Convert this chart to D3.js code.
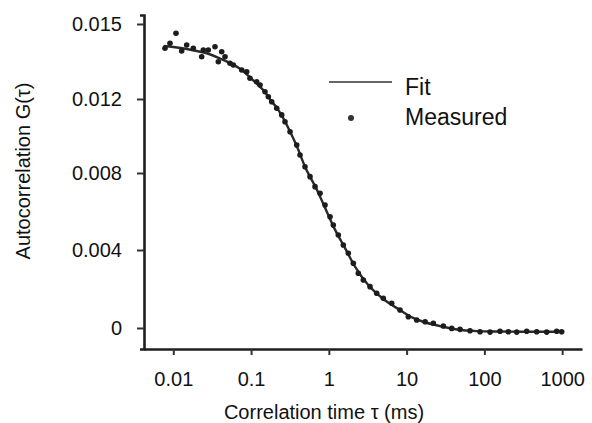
<!DOCTYPE html>
<html>
<head>
<meta charset="utf-8">
<script src="https://d3js.org/d3.v7.min.js"></script>
<style>
  body { margin: 0; background: #fff; }
  svg text { font-family: "Liberation Sans", Arial, Helvetica, sans-serif; fill: #111; }
</style>
</head>
<body>
<script>
// measured points (tau in ms, G)
var measuredTau = [0.00782, 0.00907, 0.01083, 0.01282, 0.01486, 0.01808, 0.02318, 0.02432, 0.02818, 0.03436,
  0.03793, 0.0419, 0.04624, 0.05358, 0.05912, 0.07586, 0.0879, 0.09683, 0.118, 0.1303,
  0.151, 0.1667, 0.1842, 0.2137, 0.2477, 0.2731, 0.317, 0.3864, 0.4259, 0.4939,
  0.5728, 0.6642, 0.7703, 0.8932, 1.036, 1.141, 1.323, 1.535, 1.78, 2.064,
  2.393, 2.775, 3.383, 4.125, 5.015, 6.427, 8.222, 10.52, 13.48, 17.3,
  22.05, 29.65, 38.02, 48.64, 65.31, 87.9, 118.3, 158.9, 203.2, 260.6,
  350.2, 471, 632.7, 851.1, 986.3];
var measuredG = [0.01403, 0.01423, 0.01463, 0.01392, 0.01416, 0.01403, 0.01369, 0.01396, 0.01396, 0.01409,
  0.01349, 0.01389, 0.01369, 0.01343, 0.01336, 0.01316, 0.01309, 0.01283, 0.01269, 0.01256,
  0.01229, 0.01209, 0.01185, 0.0115, 0.01114, 0.01077, 0.01023, 0.00951, 0.00897, 0.00834,
  0.00781, 0.00729, 0.00695, 0.00634, 0.00573, 0.0053, 0.00478, 0.00426, 0.00383, 0.00332,
  0.00281, 0.00246, 0.00212, 0.00178, 0.00152, 0.00127, 0.00092, 0.00058, 0.00041, 0.00032,
  0.00024, 0.0001, -0.00002, -0.00007, -0.00014, -0.00019, -0.00021, -0.00017, -0.00019, -0.00021,
  -0.00017, -0.00019, -0.00021, -0.00017, -0.00019];

// fit curve
var fitTau = [0.0075, 0.01, 0.015, 0.02, 0.03, 0.04, 0.054, 0.076, 0.097, 0.123,
  0.151, 0.175, 0.215, 0.258, 0.317, 0.39, 0.494, 0.705, 0.948, 1.2,
  1.616, 2.17, 3.19, 4.98, 8.23, 12.1, 16.3, 26.9, 44.5, 80,
  145, 314, 568, 939];
var fitG = [0.01412, 0.01408, 0.014, 0.01392, 0.01378, 0.01362, 0.01344, 0.01316, 0.01286, 0.01256,
  0.01228, 0.01198, 0.01152, 0.01098, 0.01024, 0.00942, 0.00834, 0.00712, 0.00596, 0.00506,
  0.0041, 0.00315, 0.00222, 0.0015, 0.00092, 0.00052, 0.00032, 0.0001, -0.00008, -0.00016,
  -0.00018, -0.00019, -0.00019, -0.00019];

// axis ticks
var xTicks = [0.01, 0.1, 1, 10, 100, 1000];
var xTickLabels = ["0.01", "0.1", "1", "10", "100", "1000"];
var yTicks = [0, 0.004, 0.008, 0.012, 0.015];
var yTickLabels = ["0", "0.004", "0.008", "0.012", "0.015"];

var legendItems = ["Fit", "Measured"];

var w = 592, h = 423;
var plotLeft = 144, plotRight = 582, plotTop = 15, plotBottom = 349;

var svg = d3.select("body").append("svg")
  .attr("width", w)
  .attr("height", h);

var xScale = d3.scaleLog()
  .domain([0.0042, 1800])
  .range([plotLeft, plotRight]);

// the scanned axis is not evenly spaced, so the scale is piecewise
var yScale = d3.scaleLinear()
  .domain([-0.00108, 0, 0.004, 0.008, 0.012, 0.015, 0.01536])
  .range([plotBottom, 328, 250, 173, 99, 24, plotTop]);

var xAxis = d3.axisBottom(xScale)
  .tickValues(xTicks)
  .tickFormat(function (d, i) { return xTickLabels[i]; })
  .tickSize(6)
  .tickSizeOuter(0)
  .tickPadding(17);

var yAxis = d3.axisLeft(yScale)
  .tickValues(yTicks)
  .tickFormat(function (d, i) { return yTickLabels[i]; })
  .tickSize(7)
  .tickSizeOuter(4)
  .tickPadding(15);

var gx = svg.append("g")
  .attr("transform", "translate(0," + plotBottom + ")")
  .call(xAxis);

var gy = svg.append("g")
  .attr("transform", "translate(" + plotLeft + ",0)")
  .call(yAxis);

[gx, gy].forEach(function (g) {
  g.select(".domain").attr("stroke", "#1e1e1e").attr("stroke-width", 2.6);
  g.selectAll(".tick line").attr("stroke", "#333").attr("stroke-width", 2);
  g.selectAll(".tick text").attr("font-size", 20).attr("fill", "#111");
});

// fit line
var line = d3.line()
  .x(function (d, i) { return xScale(fitTau[i]); })
  .y(function (d) { return yScale(d); })
  .curve(d3.curveMonotoneX);

svg.append("path")
  .datum(fitG)
  .attr("fill", "none")
  .attr("stroke", "#2a2a2a")
  .attr("stroke-width", 2.4)
  .attr("d", line);

// measured points
svg.append("g")
  .selectAll("circle")
  .data(measuredG)
  .enter()
  .append("circle")
  .attr("cx", function (d, i) { return xScale(measuredTau[i]); })
  .attr("cy", function (d) { return yScale(d); })
  .attr("r", 2.8)
  .attr("fill", "#1c1c1c");

// legend
var lg = svg.append("g").attr("transform", "translate(329,82)");
lg.append("line")
  .attr("x1", 0).attr("x2", 63)
  .attr("y1", 0).attr("y2", 0)
  .attr("stroke", "#666")
  .attr("stroke-width", 2);
lg.append("circle")
  .attr("cx", 22).attr("cy", 36)
  .attr("r", 3)
  .attr("fill", "#333");
lg.selectAll("text")
  .data(legendItems)
  .enter()
  .append("text")
  .attr("x", 76)
  .attr("y", function (d, i) { return 13 + i * 30; })
  .attr("font-size", 23)
  .text(function (d) { return d; });

// axis titles
svg.append("text")
  .attr("x", 324)
  .attr("y", 419)
  .attr("text-anchor", "middle")
  .attr("font-size", 20)
  .text("Correlation time \u03c4 (ms)");

svg.append("text")
  .attr("transform", "translate(30,171) rotate(-90)")
  .attr("text-anchor", "middle")
  .attr("font-size", 20)
  .text("Autocorrelation G(\u03c4)");
</script>
</body>
</html>
